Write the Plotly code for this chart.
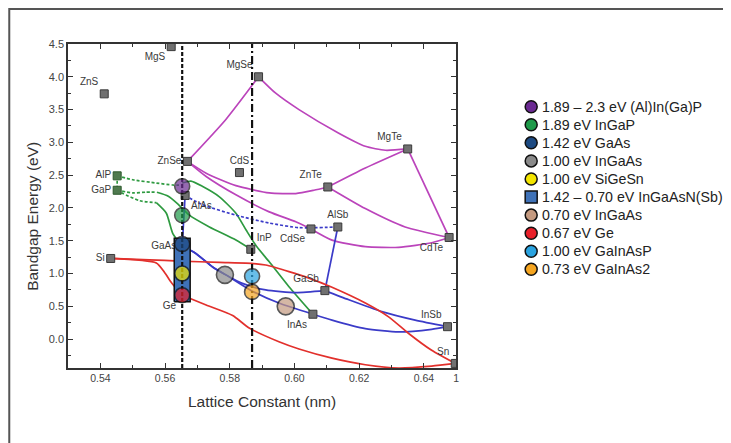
import plotly.graph_objects as go

# ---------------- data ----------------
X_RANGE = [0.53, 0.65]
Y_RANGE = [-0.44, 4.5]
GAAS_A = 0.5653   # lattice constant of GaAs / Ge (dashed line)
INP_A = 0.5869    # lattice constant of InP (dash-dot line)

X_TICKS = [0.54, 0.56, 0.58, 0.60, 0.62, 0.64, 0.65]
X_TICK_TEXT = ["0.54", "0.56", "0.58", "0.60", "0.62", "0.64", "1"]
X_MINOR = [0.53, 0.55, 0.57, 0.59, 0.61, 0.63]

# binary compounds / elements (squares)
names = ["MgS", "ZnS", "MgSe", "MgTe", "CdS", "ZnTe", "ZnSe", "AlP", "GaP", "AlAs", "Si",
         "GaAs", "Ge", "InP", "CdSe", "AlSb", "CdTe", "GaSb", "InAs", "InSb", "Sn"]
lattice = [0.5619, 0.5412, 0.5889, 0.6350, 0.5830, 0.6103, 0.5669, 0.5452, 0.5452, 0.5662, 0.5432,
           0.5653, 0.5653, 0.5865, 0.6051, 0.6134, 0.6478, 0.6094, 0.6057, 0.6473, 0.6497]
gap = [4.46, 3.74, 4.00, 2.90, 2.54, 2.32, 2.71, 2.49, 2.27, 2.19, 1.23,
       1.42, 0.67, 1.37, 1.68, 1.71, 1.55, 0.74, 0.38, 0.19, -0.37]

# magenta (II-VI) curves
znse_mgse_x = [0.5669, 0.5788, 0.5889]
znse_mgse_y = [2.71, 3.35, 4.00]
mgse_mgte_x = [0.5889, 0.5942, 0.6014, 0.6137, 0.6219, 0.6281, 0.6350]
mgse_mgte_y = [4.00, 3.75, 3.50, 3.14, 2.94, 2.88, 2.90]
znte_mgte_x = [0.6103, 0.6219, 0.6350]
znte_mgte_y = [2.32, 2.61, 2.90]
mgte_cdte_x = [0.6350, 0.6478]
mgte_cdte_y = [2.90, 1.55]
znte_cdte_x = [0.6103, 0.6219, 0.6342, 0.6478]
znte_cdte_y = [2.32, 1.99, 1.71, 1.55]
znse_znte_x = [0.5669, 0.5727, 0.5819, 0.5922, 0.6004, 0.6060, 0.6103]
znse_znte_y = [2.71, 2.53, 2.34, 2.23, 2.22, 2.27, 2.32]
znse_cdse_x = [0.5669, 0.5727, 0.5819, 0.5922, 0.6004, 0.6051]
znse_cdse_y = [2.71, 2.48, 2.20, 1.94, 1.79, 1.68]
cdse_cdte_x = [0.6051, 0.6116, 0.6219, 0.6322, 0.6424, 0.6478]
cdse_cdte_y = [1.68, 1.51, 1.41, 1.40, 1.47, 1.55]

# green (phosphide) curves
alp_gap_x = [0.5452, 0.5452]
alp_gap_y = [2.49, 2.27]
alp_ind_x = [0.5452, 0.5501, 0.5573, 0.5624, 0.5653]
alp_ind_y = [2.49, 2.43, 2.38, 2.35, 2.35]
alp_dir_x = [0.5653, 0.5680, 0.5715, 0.5768, 0.5819, 0.5851, 0.5882, 0.5922, 0.5983, 0.6057]
alp_dir_y = [2.38, 2.41, 2.33, 2.17, 1.92, 1.66, 1.42, 1.18, 0.80, 0.38]
gap_inp_ind_x = [0.5452, 0.5501, 0.5540, 0.5575]
gap_inp_ind_y = [2.27, 2.23, 2.24, 2.24]
gap_inp_dir_x = [0.5575, 0.5610, 0.5640, 0.5675, 0.5737, 0.5819, 0.5865]
gap_inp_dir_y = [2.24, 2.18, 2.06, 1.89, 1.71, 1.51, 1.37]
gap_gaas_ind_x = [0.5452, 0.5470, 0.5522, 0.5573]
gap_gaas_ind_y = [2.27, 2.22, 2.11, 2.08]
gap_gaas_dir_x = [0.5573, 0.5604, 0.5624, 0.5653]
gap_gaas_dir_y = [2.08, 1.92, 1.61, 1.42]

# blue (III-V arsenide / antimonide) curves
alas_alsb_x = [0.5662, 0.5716, 0.5819, 0.5922, 0.6014, 0.6134]
alas_alsb_y = [2.19, 2.05, 1.89, 1.77, 1.70, 1.71]
alas_gaas_x = [0.5662, 0.5653]
alas_gaas_y = [2.19, 1.42]
gaas_inas_x = [0.5653, 0.5694, 0.5747, 0.5788, 0.5863, 0.5952, 0.6057]
gaas_inas_y = [1.42, 1.31, 1.10, 0.98, 0.75, 0.55, 0.38]
gaas_gasb_x = [0.5653, 0.5694, 0.5747, 0.5788, 0.5839, 0.5911, 0.6004, 0.6094]
gaas_gasb_y = [1.42, 1.31, 1.10, 0.98, 0.85, 0.75, 0.71, 0.74]
inas_insb_x = [0.6057, 0.6116, 0.6219, 0.6322, 0.6424, 0.6473]
inas_insb_y = [0.38, 0.29, 0.16, 0.11, 0.15, 0.19]
gasb_insb_x = [0.6094, 0.6168, 0.6270, 0.6373, 0.6473]
gasb_insb_y = [0.74, 0.60, 0.42, 0.29, 0.19]
alsb_gasb_x = [0.6134, 0.6094]
alsb_gasb_y = [1.71, 0.74]

# red (group IV) curves
si_sn_x = [0.5432, 0.5552, 0.5645, 0.5768, 0.5850, 0.5911, 0.5983, 0.6045, 0.6116, 0.6219,
           0.6291, 0.6352, 0.6424, 0.6497]
si_sn_y = [1.23, 1.21, 1.19, 1.17, 1.16, 1.13, 1.03, 0.93, 0.79, 0.55, 0.34, 0.09, -0.17, -0.37]
si_ge_x = [0.5432, 0.5573, 0.5598, 0.5620, 0.5653]
si_ge_y = [1.23, 1.16, 1.02, 0.86, 0.67]
ge_sn_x = [0.5653, 0.5727, 0.5809, 0.5860, 0.5952, 0.6014, 0.6116, 0.6219, 0.6322, 0.6424, 0.6497]
ge_sn_y = [0.67, 0.52, 0.36, 0.17, -0.04, -0.15, -0.29, -0.39, -0.44, -0.41, -0.37]

# solar-cell materials (circles)
cell_labels = ["1.89 – 2.3 eV (Al)In(Ga)P", "1.89 eV InGaP", "1.42 eV GaAs", "1.00 eV InGaAs",
               "1.00 eV SiGeSn", "1.42 – 0.70 eV InGaAsN(Sb)", "0.70 eV InGaAs", "0.67 eV Ge",
               "1.00 eV GaInAsP", "0.73 eV GaInAs2"]
cell_x = [0.5653, 0.5653, 0.5653, 0.5785, 0.5653, None, 0.5973, 0.5653, 0.5869, 0.5869]
cell_y = [2.33, 1.89, 1.45, 0.98, 1.00, None, 0.50, 0.67, 0.96, 0.72]
band_lo, band_hi = 0.57, 1.54   # extent of the InGaAsN(Sb) bar

# ---------------- styles / layout ----------------
MAG = "#bb44bb"
GRN = "#2e9a40"
BLU = "#3b3bc8"
RED = "#e2302c"
cell_colors = ["#6b2a92", "#1f9a4a", "#1d4a82", "#8a8a8a", "#f3e500",
               "#3f72b8", "#c49a80", "#e8202a", "#2aa3e0", "#f5a520"]
cell_sizes = [15, 15, 15, 17, 15, 15, 17, 15, 15, 15]
label_pos = ["bottom left", "top left", "top left", "top left", "top center", "top left",
             "middle left", "middle left", "middle left", "bottom right", "middle left",
             "middle left", "bottom left", "top right", "bottom left", "top center",
             "bottom left", "top left", "bottom left", "top left", "top left"]
FONT = "Liberation Sans, Arial, sans-serif"

OFF = 8                      # page offset of the figure inside the browser window
W, H = 731, 443
PLOT_L, PLOT_T = 68 - OFF, 44 - OFF      # plot area corners (figure pixels)
PLOT_W, PLOT_H = 390, 324
R_PX = 11
B_PX = H - PLOT_T - PLOT_H
PAPER_W = W - PLOT_L - R_PX
X_DOMAIN_END = PLOT_W / PAPER_W


def px_x(screen_x):
    return (screen_x - OFF - PLOT_L) / PAPER_W


def px_y(screen_y):
    return (PLOT_T + PLOT_H - (screen_y - OFF)) / PLOT_H


fig = go.Figure()


def curve(x, y, color, dash="solid"):
    fig.add_trace(go.Scatter(x=x, y=y, mode="lines",
                             line=dict(color=color, width=1.7, dash=dash, shape="spline", smoothing=0.6),
                             hoverinfo="skip", showlegend=False))


for cx, cy in [(znse_mgse_x, znse_mgse_y), (mgse_mgte_x, mgse_mgte_y), (znte_mgte_x, znte_mgte_y),
               (mgte_cdte_x, mgte_cdte_y), (znte_cdte_x, znte_cdte_y), (znse_znte_x, znse_znte_y),
               (znse_cdse_x, znse_cdse_y), (cdse_cdte_x, cdse_cdte_y)]:
    curve(cx, cy, MAG)

for cx, cy in [(alp_gap_x, alp_gap_y), (alp_ind_x, alp_ind_y), (gap_inp_ind_x, gap_inp_ind_y),
               (gap_gaas_ind_x, gap_gaas_ind_y)]:
    curve(cx, cy, GRN, "3px,2px")
for cx, cy in [(alp_dir_x, alp_dir_y), (gap_inp_dir_x, gap_inp_dir_y), (gap_gaas_dir_x, gap_gaas_dir_y)]:
    curve(cx, cy, GRN)

curve(alas_alsb_x, alas_alsb_y, BLU, "3px,2px")
for cx, cy in [(alas_gaas_x, alas_gaas_y), (gaas_inas_x, gaas_inas_y), (gaas_gasb_x, gaas_gasb_y),
               (inas_insb_x, inas_insb_y), (gasb_insb_x, gasb_insb_y), (alsb_gasb_x, alsb_gasb_y)]:
    curve(cx, cy, BLU)

for cx, cy in [(si_sn_x, si_sn_y), (si_ge_x, si_ge_y), (ge_sn_x, ge_sn_y)]:
    curve(cx, cy, RED)

# binary compound squares with labels
sq_fill = ["#4f7a4f" if n in ("AlP", "GaP") else "#707070" for n in names]
sq_line = ["#2c5a2c" if n in ("AlP", "GaP") else "#3a3a3a" for n in names]
fig.add_trace(go.Scatter(
    x=lattice, y=gap, mode="markers+text", text=names, textposition=label_pos,
    textfont=dict(family=FONT, size=10, color="#3a3a3a"),
    marker=dict(symbol="square", size=8, color=sq_fill, line=dict(color=sq_line, width=1)),
    hoverinfo="text", showlegend=False))

# InGaAsN(Sb) bar
half_w = 8 * (X_RANGE[1] - X_RANGE[0]) / PLOT_W
fig.add_trace(go.Scatter(
    x=[GAAS_A - half_w, GAAS_A + half_w, GAAS_A + half_w, GAAS_A - half_w, GAAS_A - half_w],
    y=[band_lo, band_lo, band_hi, band_hi, band_lo], mode="lines", fill="toself",
    fillcolor=cell_colors[5], line=dict(color="#111111", width=1.5),
    hoverinfo="skip", showlegend=False))

# lattice-matched lines
fig.add_trace(go.Scatter(x=[GAAS_A, GAAS_A], y=Y_RANGE, mode="lines",
                         line=dict(color="#111111", width=2.2, dash="4px,2px"),
                         hoverinfo="skip", showlegend=False))
fig.add_trace(go.Scatter(x=[INP_A, INP_A], y=Y_RANGE, mode="lines",
                         line=dict(color="#111111", width=2.2, dash="8px,3px,2px,3px"),
                         hoverinfo="skip", showlegend=False))

# solar-cell circles
idx = [i for i in range(len(cell_labels)) if cell_x[i] is not None]
fig.add_trace(go.Scatter(
    x=[cell_x[i] for i in idx], y=[cell_y[i] for i in idx], mode="markers",
    text=[cell_labels[i] for i in idx], hoverinfo="text",
    marker=dict(symbol="circle", size=[cell_sizes[i] for i in idx],
                color=[cell_colors[i] for i in idx], line=dict(color="#111111", width=1.6)),
    showlegend=False))

# manual legend on a helper axis (x2 in pixels from its left edge, y2 in item rows)
LEG_DOMAIN = [0.64, 1.0]
leg_origin = OFF + PLOT_L + LEG_DOMAIN[0] * PAPER_W    # screen x of x2 = 0
leg_sym = ["square" if lbl.startswith("1.42 – ") else "circle" for lbl in cell_labels]
fig.add_trace(go.Scatter(
    x=[533.3 - leg_origin] * len(cell_labels), y=list(range(len(cell_labels))), xaxis="x2", yaxis="y2",
    mode="markers", cliponaxis=False,
    marker=dict(symbol=leg_sym, size=12, color=cell_colors, line=dict(color="#111111", width=1.5)),
    hoverinfo="skip", showlegend=False))
annotations = [dict(x=542 - leg_origin, y=i, xref="x2", yref="y2", text=lbl, showarrow=False,
                    xanchor="left", yanchor="middle",
                    font=dict(family=FONT, size=14.2, color="#222222"))
               for i, lbl in enumerate(cell_labels)]
# rows: item 0 at screen y 106.7, 18.07 px per row
row_px = 18.07
top_row = (44 - 106.7) / row_px
bot_row = (368 - 106.7) / row_px

# axis titles
annotations.append(dict(x=px_x(262.5), y=px_y(401.5), xref="paper", yref="paper",
                        text="Lattice Constant (nm)", showarrow=False,
                        xanchor="center", yanchor="middle",
                        font=dict(family=FONT, size=15.5, color="#333333")))
annotations.append(dict(x=px_x(31.7), y=px_y(216), xref="paper", yref="paper",
                        text="Bandgap Energy (eV)", showarrow=False,
                        textangle=-90, xanchor="center", yanchor="middle",
                        font=dict(family=FONT, size=15.5, color="#333333")))

axis_common = dict(showline=True, linecolor="#333333", linewidth=1.5, mirror="allticks",
                   ticks="inside", ticklen=5, tickwidth=1.2, tickcolor="#333333",
                   showgrid=False, zeroline=False)

fig.update_layout(
    width=W, height=H, margin=dict(l=PLOT_L, r=R_PX, t=PLOT_T, b=B_PX),
    paper_bgcolor="white", plot_bgcolor="white", showlegend=False,
    font=dict(family=FONT),
    xaxis=dict(domain=[0, X_DOMAIN_END], range=X_RANGE, tickmode="array", tickvals=X_TICKS,
               ticktext=X_TICK_TEXT, tickfont=dict(family=FONT, size=10.5, color="#444444"),
               minor=dict(tickvals=X_MINOR, ticks="inside", ticklen=3, tickcolor="#333333"),
               **axis_common),
    yaxis=dict(range=Y_RANGE, tick0=0, dtick=0.5, tickformat=".1f",
               tickfont=dict(family=FONT, size=11, color="#444444"),
               minor=dict(dtick=0.25, ticks="inside", ticklen=3, tickcolor="#333333"),
               **axis_common),
    xaxis2=dict(domain=LEG_DOMAIN, range=[0, (LEG_DOMAIN[1] - LEG_DOMAIN[0]) * PAPER_W],
                visible=False, anchor="y2"),
    yaxis2=dict(domain=[0, 1], range=[bot_row, top_row], visible=False, anchor="x2"),
    annotations=annotations,
    shapes=[dict(type="rect", xref="paper", yref="paper",
                 x0=px_x(OFF + 1), x1=2.0, y0=-2.0, y1=px_y(OFF + 1),
                 line=dict(color="#555555", width=2), fillcolor="rgba(0,0,0,0)", layer="below")],
)

fig.write_html("out.html")
